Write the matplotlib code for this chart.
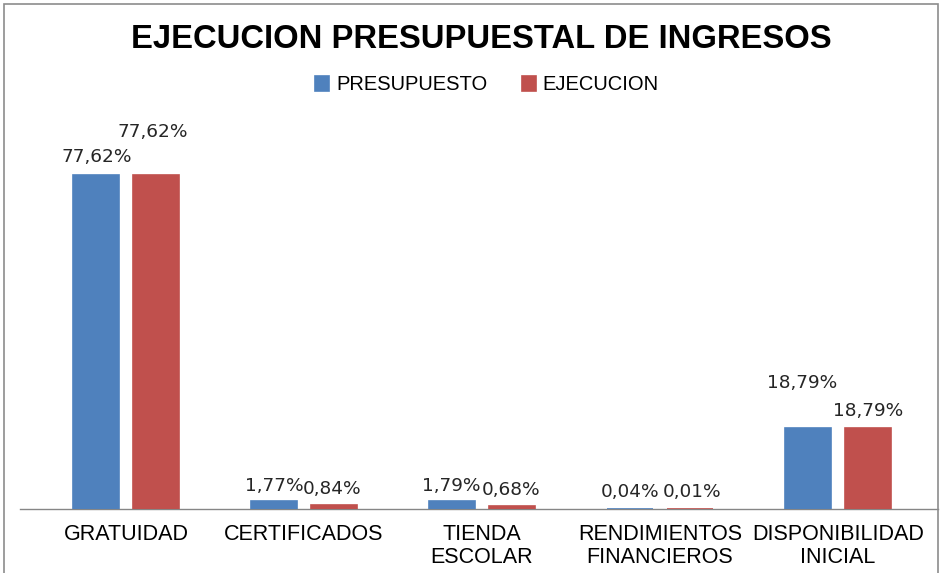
import matplotlib
matplotlib.use("Agg")
import matplotlib.pyplot as plt
import numpy as np

categories = ["GRATUIDAD", "CERTIFICADOS", "TIENDA\nESCOLAR", "RENDIMIENTOS\nFINANCIEROS", "DISPONIBILIDAD\nINICIAL"]
presupuesto = [77.62, 1.77, 1.79, 0.04, 18.79]
ejecucion = [77.62, 0.84, 0.68, 0.01, 18.79]
pres_labels = ["77,62%", "1,77%", "1,79%", "0,04%", "18,79%"]
ejec_labels = ["77,62%", "0,84%", "0,68%", "0,01%", "18,79%"]

BLUE = "#4F81BD"
RED = "#C0504D"
W, H = 942, 573
fig = plt.figure(figsize=(W / 100, H / 100), dpi=100)

# border
fig.add_artist(plt.Rectangle((4 / W, -0.01), (934) / W, (573 - 4) / H + 0.01,
                             transform=fig.transFigure, fill=False,
                             edgecolor="#8c8c8c", linewidth=1.2))

ax_left, ax_right, base_y, top_y = 20, 938, 509, 120
ax = fig.add_axes([ax_left / W, (H - base_y) / H, (ax_right - ax_left) / W, (base_y - top_y) / H])

x = np.arange(len(categories))
bw = 0.26
off = 0.169
ax.bar(x - off, presupuesto, bw, color=BLUE, edgecolor=BLUE, linewidth=1.2, label="PRESUPUESTO", zorder=3)
ax.bar(x + off, ejecucion, bw, color=RED, edgecolor=RED, linewidth=1.2, label="EJECUCION", zorder=3)

ppu = 334 / 77.62  # pixels per unit
ax.set_ylim(0, (base_y - top_y) / ppu)
ax.set_xlim((ax_left - 126) / 178, (ax_right - 126) / 178)

for s in ["top", "right", "left"]:
    ax.spines[s].set_visible(False)
ax.spines["bottom"].set_color("#868686")
ax.spines["bottom"].set_linewidth(1.0)
ax.spines["bottom"].set_zorder(1)
ax.set_yticks([])
ax.set_xticks(x)
ax.set_xticklabels(categories, fontsize=15.5, family="Liberation Sans", linespacing=1.12)
ax.tick_params(axis="x", length=0, pad=11)

# label offsets (dx, dy above bar top, in px)
pres_off = [(1, 18), (0, 15), (-1, 15), (0, 17), (-6, 45)]
ejec_off = [(-3, 43), (-2, 16), (-1, 16), (2, 17), (0, 17)]
lab_font = dict(fontsize=13.3, family="DejaVu Sans", color="#262626", ha="center", va="center")
for i in range(len(categories)):
    ax.annotate(pres_labels[i], (x[i] - off, presupuesto[i]), xytext=(pres_off[i][0] * 0.72, pres_off[i][1] * 0.72),
                textcoords="offset points", **lab_font)
    ax.annotate(ejec_labels[i], (x[i] + off, ejecucion[i]), xytext=(ejec_off[i][0] * 0.72, ejec_off[i][1] * 0.72),
                textcoords="offset points", **lab_font)

fig.text(481 / W, 1 - 40 / H, "EJECUCION PRESUPUESTAL DE INGRESOS", ha="center", va="center",
         fontsize=23.6, fontweight="bold", family="Liberation Sans", color="black")

leg = fig.legend(loc="center", bbox_to_anchor=(487 / W, 1 - 85 / H), ncol=2, frameon=False,
                 prop=dict(family="Liberation Sans", size=14.5), handlelength=0.7, handleheight=0.7,
                 handletextpad=0.35, columnspacing=1.7)

fig.savefig("out.png", dpi=100)
